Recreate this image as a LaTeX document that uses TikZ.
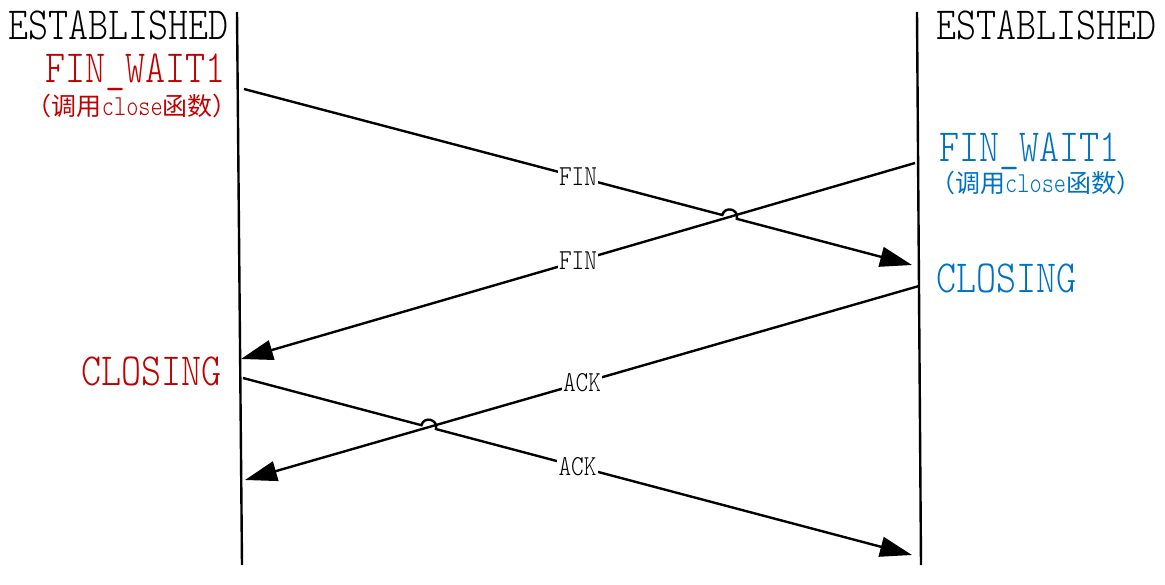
\documentclass[tikz,border=0pt]{standalone}
\usepackage{fontspec}
\newfontfamily\statefont{lmmonolt10-regular.otf}[FakeStretch=0.83]
\newfontfamily\notefont{lmmonolt10-regular.otf}[FakeStretch=0.8]
\newfontfamily\cjk{Noto Sans CJK SC}
\usetikzlibrary{arrows.meta,calc,intersections}
\definecolor{clientred}{HTML}{C00000}
\definecolor{serverblue}{HTML}{0070C0}
\newcommand\closecall{{\cjk （调用}{\notefont\fontsize{29}{29}\selectfont close}{\cjk 函数）}}

\begin{document}
\begin{tikzpicture}[
      x = 1pt, y = 1pt, % one unit per pixel
      line width = 2.4pt, % line style
      msg/.style = {-{Triangle[length=32pt,width=20pt]}},
      state/.style = {inner sep=0pt, font=\statefont\fontsize{46}{46}\selectfont},
      note/.style = {inner sep=0pt, font=\fontsize{25}{25}\selectfont},
      lbl/.style = {fill=white, inner sep=1.5pt, font=\statefont\fontsize{29}{29}\selectfont}
  ]

\useasboundingbox (0,0) rectangle (1165,-585);

% lifelines
\coordinate (lTop) at (237,-12);
\coordinate (lBot) at (242,-565);
\coordinate (rTop) at (917,-12);
\coordinate (rBot) at (921,-565);
\draw (lTop) -- (lBot);
\draw (rTop) -- (rBot);

% ends of the messages
\coordinate (lFin)   at (244,-89);
\coordinate (rFinIn) at (912,-265);
\coordinate (rFin)   at (915,-163);
\coordinate (lFinIn) at (241,-359);
\coordinate (rAck)   at (919,-286);
\coordinate (lAckIn) at (245,-480);
\coordinate (lAck)   at (243,-378);
\coordinate (rAckIn) at (912,-555);

\path[name path=fin1] (lFin) -- (rFinIn);
\path[name path=ack2] (lAck) -- (rAckIn);

% straight messages
\draw[msg, name path=fin2] (rFin) -- (lFinIn);
\draw[msg, name path=ack1] (rAck) -- (lAckIn);

\path[name intersections={of=fin1 and fin2, by=xFin}];
\path[name intersections={of=ack2 and ack1, by=xAck}];

% messages that hop over the others
\draw[msg] (lFin) -- ($(xFin)!7.5pt!(lFin)$)
    to[out=75, in=75, looseness=1.7] ($(xFin)!7.5pt!(rFinIn)$) -- (rFinIn);
\draw[msg] (lAck) -- ($(xAck)!7.5pt!(lAck)$)
    to[out=75, in=75, looseness=1.7] ($(xAck)!7.5pt!(rAckIn)$) -- (rAckIn);

\foreach \from/\to/\txt [count=\i] in {
    lFin/rFinIn/FIN,
    rFin/lFinIn/FIN,
    rAck/lAckIn/ACK,
    lAck/rAckIn/ACK
}{
    \node[lbl] (msg\i) at ($(\from)!0.5!(\to)$) {\txt};
}

% states of the two sides
\node[state, anchor=base east] (lEst) at (230,-40) {ESTABLISHED};
\node[state, anchor=base east, text=clientred] (lWait) at (227,-83) {FIN\_WAIT1};
\node[note, anchor=base east, text=clientred] (lNote) at (239,-116) {\closecall};
\node[state, anchor=base east, text=clientred] (lClosing) at (223,-385) {CLOSING};

\node[state, anchor=base west] (rEst) at (935,-40) {ESTABLISHED};
\node[state, anchor=base west, text=serverblue] (rWait) at (938,-162) {FIN\_WAIT1};
\node[note, anchor=base west, text=serverblue] (rNote) at (929,-193) {\closecall};
\node[state, anchor=base west, text=serverblue] (rClosing) at (935,-293) {CLOSING};

\end{tikzpicture}
\end{document}
